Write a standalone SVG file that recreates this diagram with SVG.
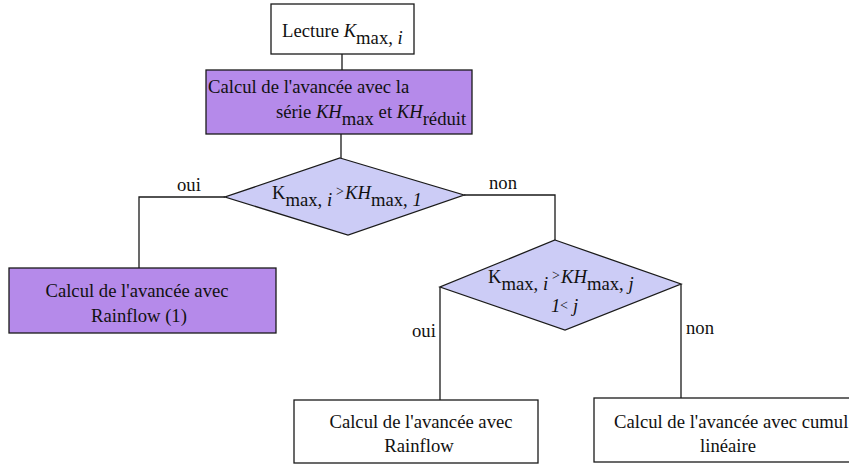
<svg xmlns="http://www.w3.org/2000/svg" width="849" height="465" viewBox="0 0 849 465">
<style>
text{font-family:"Liberation Serif","Times New Roman",serif;font-size:18.67px;fill:#111}
.it{font-style:italic}
.box{fill:#fff;stroke:#1a1a1a;stroke-width:1.3}
.pur{fill:#b58aea;stroke:#1a1a1a;stroke-width:1.3}
.dia{fill:#ccccf6;stroke:#1a1a1a;stroke-width:1.3}
.con{fill:none;stroke:#1a1a1a;stroke-width:1.3}
.sm{font-size:14px}
</style>
<rect width="849" height="465" fill="#fff"/>
<g id="connectors">
<path class="con" d="M342 54V70"/>
<path class="con" d="M341 134V158"/>
<path class="con" d="M225 197H139V268"/>
<path class="con" d="M464 195H555V240"/>
<path class="con" d="M440 287V400"/>
<path class="con" d="M681 284V398"/>
<text x="177" y="191">oui</text>
<text x="489" y="189">non</text>
<text x="412" y="337">oui</text>
<text x="686" y="334">non</text>
</g>
<g id="lecture">
<rect class="box" x="271" y="4" width="143" height="50"/>
<text x="282" y="37">Lecture <tspan class="it">K</tspan><tspan y="44">max, </tspan><tspan class="it" y="44">i</tspan></text>
</g>
<g id="calcul-serie">
<rect class="pur" x="206" y="70" width="266" height="64"/>
<text x="208" y="93">Calcul de l'avancée avec la</text>
<text x="276" y="118">série <tspan class="it">KH</tspan><tspan y="125">max</tspan><tspan y="118"> et </tspan><tspan class="it">KH</tspan><tspan y="125">réduit</tspan></text>
</g>
<g id="test1">
<polygon class="dia" points="340,158 464,195 348,235 225,197"/>
<text x="272" y="199">K<tspan y="206">max, </tspan><tspan class="it" y="206">i</tspan><tspan class="sm" x="336" y="196">&gt;</tspan><tspan class="it" x="345" y="199">KH</tspan><tspan y="206">max, </tspan><tspan class="it" y="206">1</tspan></text>
</g>
<g id="rainflow1">
<rect class="pur" x="9" y="268" width="267" height="65"/>
<text x="137" y="297" text-anchor="middle">Calcul de l'avancée avec</text>
<text x="139" y="322" text-anchor="middle">Rainflow (1)</text>
</g>
<g id="test2">
<polygon class="dia" points="555,240 681,284 565,330 440,287"/>
<text x="488" y="283">K<tspan y="290">max, </tspan><tspan class="it" y="290">i</tspan><tspan class="sm" x="552" y="280">&gt;</tspan><tspan class="it" x="561" y="283">KH</tspan><tspan y="290">max, </tspan><tspan class="it" y="290">j</tspan></text>
<text x="551" y="312"><tspan class="it">1</tspan><tspan class="sm" x="560" y="310">&lt;</tspan><tspan class="it" x="573" y="312">j</tspan></text>
</g>
<g id="rainflow">
<rect class="box" x="294" y="400" width="244" height="63"/>
<text x="421" y="428" text-anchor="middle">Calcul de l'avancée avec</text>
<text x="419" y="452" text-anchor="middle">Rainflow</text>
</g>
<g id="cumul">
<rect class="box" x="594" y="398" width="260" height="64"/>
<text x="614" y="428">Calcul de l'avancée avec cumul</text>
<text x="728" y="452" text-anchor="middle">linéaire</text>
</g>
</svg>
